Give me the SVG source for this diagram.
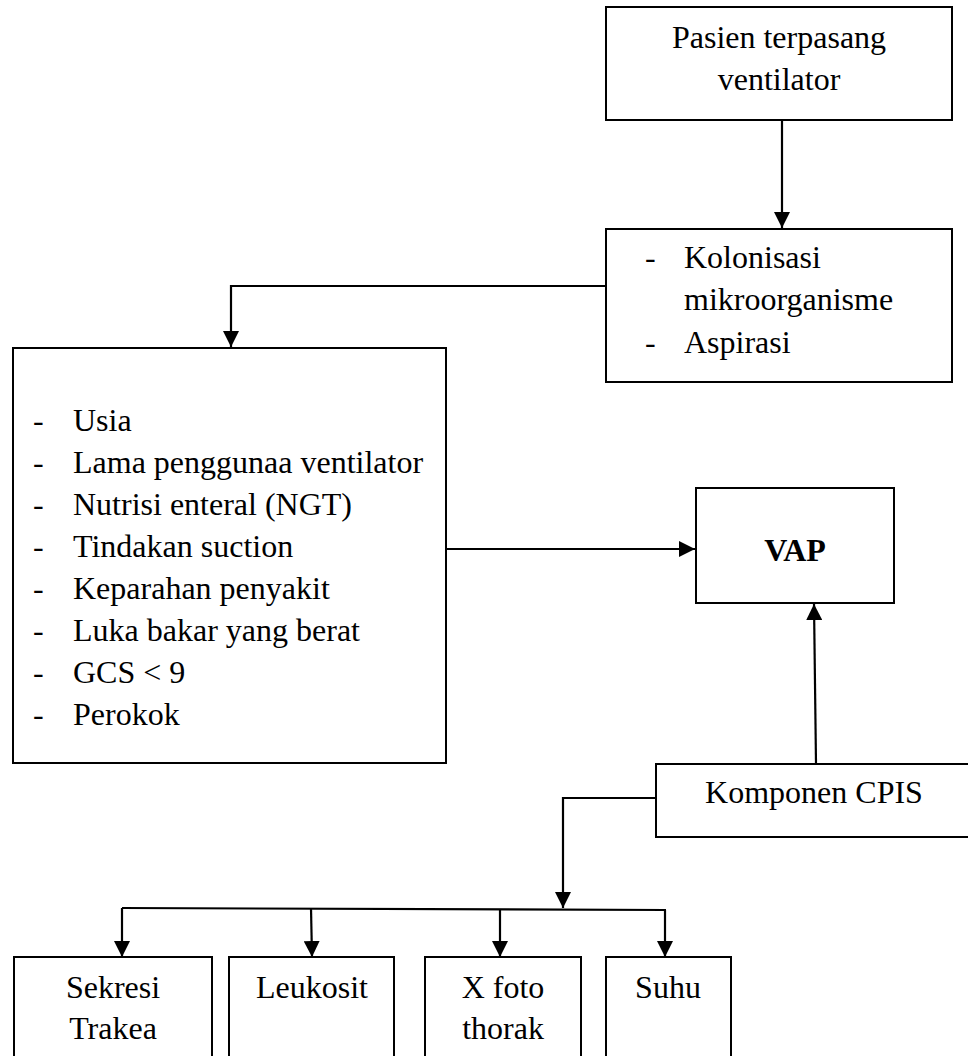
<svg xmlns="http://www.w3.org/2000/svg" width="968" height="1056" viewBox="0 0 968 1056">
<style>
.box{fill:#fff;stroke:#000;stroke-width:2}
.t{font-family:'Liberation Serif','Times New Roman',Times,serif;font-size:32px;fill:#000}
.c{text-anchor:middle}
.b{font-weight:bold}
.ln{fill:none;stroke:#000;stroke-width:2.2}
</style>
<defs>
<marker id="ah" markerUnits="userSpaceOnUse" markerWidth="16" markerHeight="16" viewBox="0 0 16 16" refX="16" refY="8" orient="auto">
<path d="M0,0 L16,8 L0,16 Z" fill="#000"/>
</marker>
</defs>
<rect width="968" height="1056" fill="#fff"/>
<g id="connectors">
<path class="ln" d="M782,120 V228" marker-end="url(#ah)"/>
<path class="ln" d="M606,286 H231 V347" marker-end="url(#ah)"/>
<path class="ln" d="M446,549 H695" marker-end="url(#ah)"/>
<path class="ln" d="M816,764 L814,604" marker-end="url(#ah)"/>
<path class="ln" d="M656,798 H563 V908" marker-end="url(#ah)"/>
<path class="ln" d="M122,908 L666,910"/>
<path class="ln" d="M122,908 V957" marker-end="url(#ah)"/>
<path class="ln" d="M311,908 L312,957" marker-end="url(#ah)"/>
<path class="ln" d="M500,909 V957" marker-end="url(#ah)"/>
<path class="ln" d="M665,910 V957" marker-end="url(#ah)"/>
</g>
<g id="node-pasien">
<rect class="box" x="606" y="7" width="346" height="113"/>
<text class="t c" x="779" y="48">Pasien terpasang</text>
<text class="t c" x="779" y="90">ventilator</text>
</g>
<g id="node-kolonisasi">
<rect class="box" x="606" y="229" width="346" height="153"/>
<text class="t" x="645" y="268">-</text>
<text class="t" x="684" y="268">Kolonisasi</text>
<text class="t" x="684" y="310">mikroorganisme</text>
<text class="t" x="645" y="353">-</text>
<text class="t" x="684" y="353">Aspirasi</text>
</g>
<g id="node-faktor">
<rect class="box" x="13" y="348" width="433" height="415"/>
<g class="t">
<text x="33" y="431">-</text><text x="73" y="431">Usia</text>
<text x="33" y="473">-</text><text x="73" y="473">Lama penggunaa ventilator</text>
<text x="33" y="515">-</text><text x="73" y="515">Nutrisi enteral (NGT)</text>
<text x="33" y="557">-</text><text x="73" y="557">Tindakan suction</text>
<text x="33" y="599">-</text><text x="73" y="599">Keparahan penyakit</text>
<text x="33" y="641">-</text><text x="73" y="641">Luka bakar yang berat</text>
<text x="33" y="683">-</text><text x="73" y="683">GCS &lt; 9</text>
<text x="33" y="725">-</text><text x="73" y="725">Perokok</text>
</g>
</g>
<g id="node-vap">
<rect class="box" x="696" y="488" width="198" height="115"/>
<text class="t c b" x="795" y="561">VAP</text>
</g>
<g id="node-cpis">
<rect class="box" x="656" y="764" width="330" height="73"/>
<text class="t c" x="814" y="803">Komponen CPIS</text>
</g>
<g id="node-sekresi">
<rect class="box" x="14" y="957" width="198" height="120"/>
<text class="t c" x="113" y="998">Sekresi</text>
<text class="t c" x="113" y="1039">Trakea</text>
</g>
<g id="node-leukosit">
<rect class="box" x="229" y="957" width="165" height="120"/>
<text class="t c" x="312" y="998">Leukosit</text>
</g>
<g id="node-xfoto">
<rect class="box" x="425" y="957" width="156" height="120"/>
<text class="t c" x="503" y="998">X foto</text>
<text class="t c" x="503" y="1039">thorak</text>
</g>
<g id="node-suhu">
<rect class="box" x="606" y="957" width="125" height="120"/>
<text class="t c" x="668" y="998">Suhu</text>
</g>
</svg>
